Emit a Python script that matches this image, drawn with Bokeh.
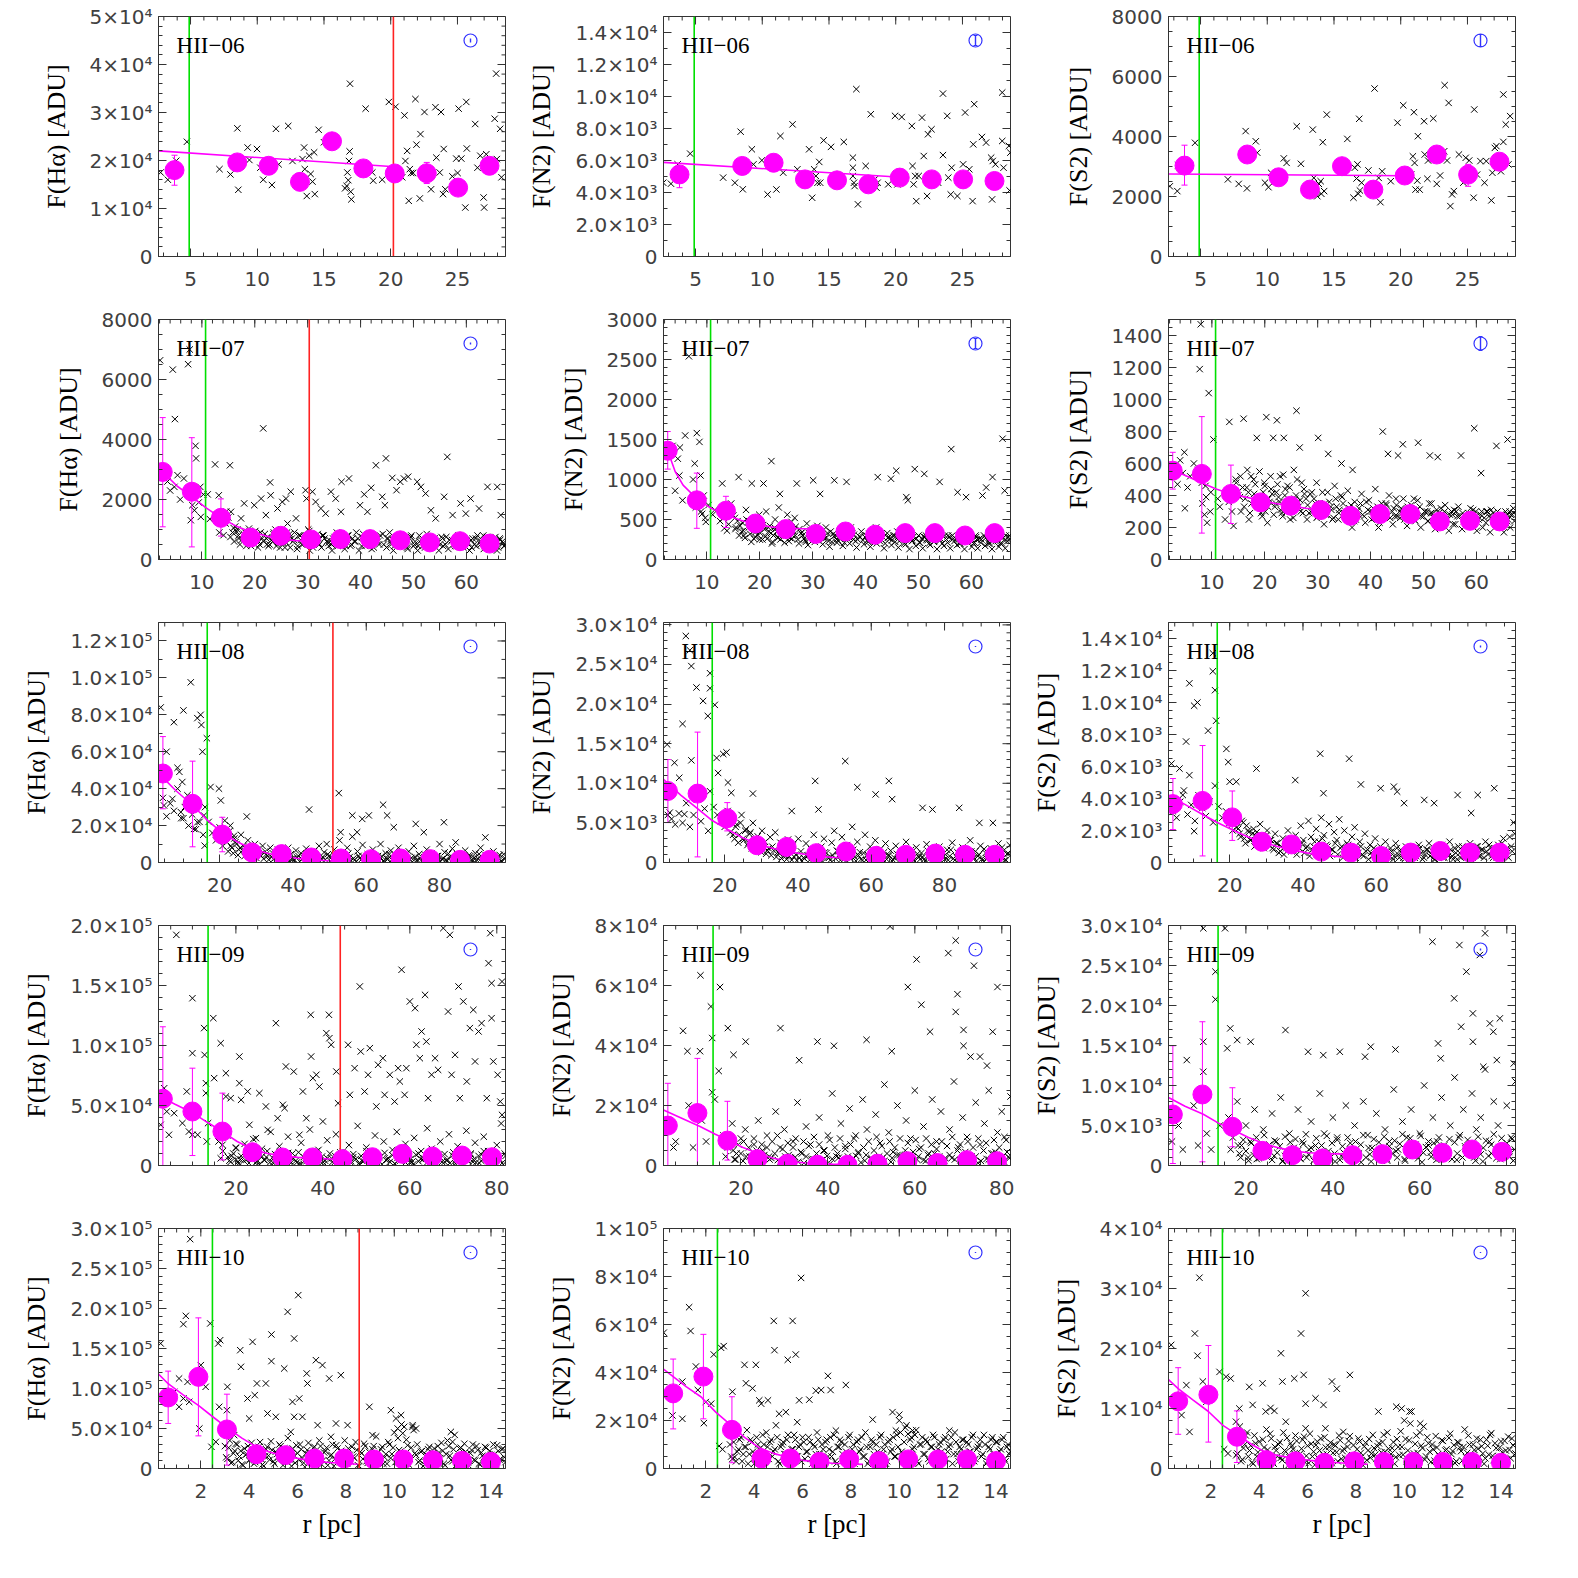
import numpy as np
from bokeh.plotting import figure
from bokeh.layouts import column, row
from bokeh.models import Range1d, FixedTicker, Label
from bokeh.embed import file_html
from bokeh.resources import INLINE

KADU = 1000.0  # all flux lists below are in units of 10^3 ADU

regions = ["HII\u221206", "HII\u221207", "HII\u221208", "HII\u221209", "HII\u221210"]
ylabels = ["F(H\u03b1) [ADU]", "F(N2) [ADU]", "F(S2) [ADU]"]
xlabel = "r [pc]"

xranges = [(2.6, 28.6), (1.8, 67.4), (3.3, 98.0), (2.2, 82.0), (0.25, 14.6)]
xticks = [[5, 10, 15, 20, 25], [10, 20, 30, 40, 50, 60], [20, 40, 60, 80], [20, 40, 60, 80], [2, 4, 6, 8, 10, 12, 14]]
ytops = [[50000, 15000, 8000], [8000, 3000, 1500], [130000, 30300, 15000], [200000, 80000, 30000], [300000, 100000, 40000]]
ytick_vals = [
    [[0, 10000, 20000, 30000, 40000, 50000], [0, 2000, 4000, 6000, 8000, 10000, 12000, 14000], [0, 2000, 4000, 6000, 8000]],
    [[0, 2000, 4000, 6000, 8000], [0, 500, 1000, 1500, 2000, 2500, 3000], [0, 200, 400, 600, 800, 1000, 1200, 1400]],
    [[0, 20000, 40000, 60000, 80000, 100000, 120000], [0, 5000, 10000, 15000, 20000, 25000, 30000], [0, 2000, 4000, 6000, 8000, 10000, 12000, 14000]],
    [[0, 50000, 100000, 150000, 200000], [0, 20000, 40000, 60000, 80000], [0, 5000, 10000, 15000, 20000, 25000, 30000]],
    [[0, 50000, 100000, 150000, 200000, 250000, 300000], [0, 20000, 40000, 60000, 80000, 100000], [0, 10000, 20000, 30000, 40000]],
]
ytick_labels = [
    [["0", "1×10⁴", "2×10⁴", "3×10⁴", "4×10⁴", "5×10⁴"],
     ["0", "2.0×10³", "4.0×10³", "6.0×10³", "8.0×10³", "1.0×10⁴", "1.2×10⁴", "1.4×10⁴"],
     ["0", "2000", "4000", "6000", "8000"]],
    [["0", "2000", "4000", "6000", "8000"],
     ["0", "500", "1000", "1500", "2000", "2500", "3000"],
     ["0", "200", "400", "600", "800", "1000", "1200", "1400"]],
    [["0", "2.0×10⁴", "4.0×10⁴", "6.0×10⁴", "8.0×10⁴", "1.0×10⁵", "1.2×10⁵"],
     ["0", "5.0×10³", "1.0×10⁴", "1.5×10⁴", "2.0×10⁴", "2.5×10⁴", "3.0×10⁴"],
     ["0", "2.0×10³", "4.0×10³", "6.0×10³", "8.0×10³", "1.0×10⁴", "1.2×10⁴", "1.4×10⁴"]],
    [["0", "5.0×10⁴", "1.0×10⁵", "1.5×10⁵", "2.0×10⁵"],
     ["0", "2×10⁴", "4×10⁴", "6×10⁴", "8×10⁴"],
     ["0", "5.0×10³", "1.0×10⁴", "1.5×10⁴", "2.0×10⁴", "2.5×10⁴", "3.0×10⁴"]],
    [["0", "5.0×10⁴", "1.0×10⁵", "1.5×10⁵", "2.0×10⁵", "2.5×10⁵", "3.0×10⁵"],
     ["0", "2×10⁴", "4×10⁴", "6×10⁴", "8×10⁴", "1×10⁵"],
     ["0", "1×10⁴", "2×10⁴", "3×10⁴", "4×10⁴"]],
]
x_minor_step = [1, 2, 5, 5, 0.5]
y_minor_step = [[2000, 1000, 500], [500, 100, 50], [10000, 1000, 500], [10000, 5000, 1000], [10000, 5000, 2000]]

green_x = [4.9, 10.7, 16.6, 13.6, 2.48]
red_x = [20.2, 30.3, 50.9, 44.0, 8.55]

# ---------------- HII-06 pixels (r [pc], flux [kADU]) ----------------
r06_ha = [2.76,3.3,3.93,4.73,7.17,7.99,8.51,8.58,9.28,9.41,9.98,10.23,10.45,11.1,11.4,11.6,12.32,12.64,13.39,13.51,13.56,13.71,13.89,14.0,14.14,14.26,14.31,14.6,15.0,16.58,16.7,16.75,16.82,16.87,16.92,16.95,17.0,17.05,18.12,18.24,18.62,18.69,19.36,19.86,20.36,20.86,21.03,21.1,21.23,21.35,21.43,21.53,21.68,21.85,21.93,22.18,22.23,22.53,23.02,23.35,23.42,23.67,23.77,23.92,23.97,24.09,24.62,24.91,25.01,25.09,25.29,25.59,25.66,25.7,26.33,26.5,26.71,26.96,27.0,27.16,27.34,27.79,27.9,27.95,28.2,28.3]
f06_ha = [17.5,16,19.95,23.9,18.2,17.1,26.7,13.9,22.7,20.1,22.4,18.5,16,14.9,26.6,19.2,27.2,19.9,20.3,22.7,18.2,12.6,21,17.2,15.6,21.7,13,26.4,23.8,14.2,14.7,17.5,15.9,19.9,21.9,36,13.5,11.9,30.8,18.9,17.5,15.8,16,32.2,31.2,16.5,29.4,19.9,22,11.6,18.2,17.4,17.4,32.8,23.3,12.1,25.5,30.1,14,31.1,20.6,17.5,30.1,13,22.4,14,16.7,20.4,17.4,30.8,20.4,10.2,32.2,22.5,27.6,18.5,21,12.3,10.2,21.3,18.2,28.7,38.1,20.3,26.6,16.5]
r06_n2 = [2.58,3.16,3.66,4.6,7.07,7.95,8.38,8.54,9.22,9.34,9.97,10.4,11.06,11.36,11.57,12.27,12.63,13.51,13.74,13.89,14.02,14.14,14.27,14.34,14.6,15.15,16.11,16.79,16.79,16.79,16.87,16.92,17.05,17.17,17.75,18.13,18.43,18.56,18.64,19.44,19.95,20.13,20.45,21.21,21.26,21.34,21.46,21.54,21.72,21.97,22.1,22.35,22.42,22.68,23.18,23.54,23.54,23.86,23.94,24.12,24.19,24.62,25.05,25.2,25.51,25.76,25.81,25.88,26.46,26.77,27.15,27.22,27.27,27.47,27.98,27.98,28.08,28.48,28.53,28.59]
f06_n2 = [4.61,4.55,5.76,6.43,4.93,4.61,7.8,4.2,6.7,5.76,6.01,3.88,4.19,7.53,5.24,8.26,5.45,6.7,3.67,5.45,5.03,4.61,5.91,4.61,7.26,6.85,7.16,6.18,5.55,5.03,4.61,4.4,10.46,3.26,5.66,8.89,4.82,4.3,4.61,4.51,8.79,4.51,8.72,8.16,5.66,4.51,5.03,3.46,5.03,8.68,6.28,3.78,7.64,7.95,4.61,10.18,6.34,8.79,4.93,3.88,5.55,3.78,5.76,9.0,5.45,3.46,7.01,9.52,7.47,7.12,6.18,3.57,5.97,5.76,10.25,7.22,5.55,6.91,4.13,6.49]
r06_s2 = [2.7,3.26,3.31,4.59,7.05,7.86,8.38,8.48,9.14,9.25,9.83,10.09,10.29,11.24,11.45,12.21,12.52,13.41,13.49,13.75,13.87,14.0,14.05,14.16,14.26,14.46,16.0,16.46,16.56,16.69,16.76,16.82,16.89,16.94,17.07,17.58,18.04,18.35,18.48,18.61,19.25,19.76,20.19,20.78,20.91,20.99,21.04,21.11,21.24,21.29,21.42,21.75,21.8,22.0,22.05,22.44,22.7,22.95,23.26,23.29,23.47,23.59,23.72,23.85,23.98,24.36,24.69,24.87,25.13,25.46,25.51,25.72,25.97,26.28,26.41,26.79,26.87,27.05,27.17,27.51,27.69,27.69,27.87,28.07,28.2]
f06_s2 = [2.34,2.18,3.04,3.79,2.57,2.42,4.18,2.27,3.84,3.46,2.46,2.31,2.79,3.27,3.12,4.34,3.09,4.23,2.62,2.01,2.42,2.51,2.09,3.81,2.18,4.73,3.92,1.96,2.96,2.6,3.07,2.09,4.59,2.2,2.46,2.87,5.6,2.62,1.81,2.84,2.51,4.46,5.04,2.73,3.34,4.81,3.12,2.23,2.53,4.01,2.23,4.51,3.4,2.59,3.2,4.6,2.42,2.7,3.51,5.71,3.2,5.12,1.68,2.07,2.18,3.4,2.46,3.29,3.2,1.96,4.9,2.73,3.18,2.46,3.18,1.87,2.79,3.62,3.68,2.84,5.4,3.82,4.4,3.07,4.68]

# ---------------- HII-07 pixels (r, Ha, N2, S2) [kADU] ----------------
pts07 = [
(2.1,6.64,1.38,0.56),(2.8,2.94,1.30,0.59),(3.5,2.60,1.42,0.47),(4.0,2.30,0.86,0.62),(4.5,6.33,1.26,0.54),
(4.8,2.42,1.05,0.67),(4.9,4.68,1.40,0.32),(5.4,2.81,0.74,0.45),(5.9,2.00,1.55,0.52),(6.6,2.70,2.54,0.60),
(7.4,6.51,1.00,0.56),(7.7,7.00,1.20,1.19),(7.9,1.31,0.65,1.47),(8.1,2.10,1.58,0.48),(8.2,1.81,0.72,0.35),
(8.6,1.64,1.47,0.28),(8.8,3.79,1.05,0.46),(8.9,3.37,0.60,0.39),(9.1,2.20,0.57,0.23),(9.4,1.90,0.80,1.04),
(9.7,2.42,0.52,0.30),(9.8,1.42,0.47,0.42),(10.3,2.17,0.68,0.75),(11.1,2.17,0.56,0.38),(11.5,1.35,0.62,0.33),
(12.5,3.17,0.48,0.25),(12.9,1.50,0.95,0.42),(13.2,2.14,0.52,0.36),(13.3,0.90,0.39,0.86),(13.8,1.30,0.36,0.30),
(14.1,0.81,0.44,0.21),(14.6,1.60,0.70,0.48),(15.3,3.14,0.52,0.39),(15.5,1.59,0.40,0.30),(16.0,1.05,1.03,0.88),
(16.6,0.92,0.35,0.45),(17.0,0.70,0.30,0.25),(17.4,1.37,0.62,0.52),(18.0,1.87,0.48,0.41),(18.5,0.60,0.95,0.76),
(18.9,1.03,0.26,0.33),(19.3,0.45,0.35,0.29),(19.9,1.81,0.56,0.48),(20.3,0.80,0.42,0.89),(20.5,0.81,0.25,0.23),
(20.7,0.60,0.95,0.38),(21.2,2.03,0.60,0.44),(21.6,4.37,0.40,0.76),(22.1,1.48,0.33,0.35),(22.2,0.70,1.23,0.42),
(22.3,0.50,0.20,0.87),(22.9,2.57,0.50,0.52),(23.0,2.14,0.38,0.31),(23.4,0.59,0.27,0.27),(23.6,0.90,0.65,0.76),
(23.8,0.75,0.82,0.40),(24.3,1.70,0.30,0.46),(24.8,0.40,0.43,0.25),(25.2,1.92,0.56,0.33),(25.5,0.65,0.23,0.56),
(25.9,2.03,0.38,0.40),(26.0,0.55,0.47,0.93),(26.2,1.20,0.30,0.36),(26.6,0.85,0.52,0.70),(26.8,2.26,0.41,0.30),
(27.0,0.70,0.95,0.48),(27.8,1.37,0.33,0.38),(28.4,0.81,0.26,0.29),(28.9,0.50,0.45,0.42),(29.6,2.31,0.37,0.35),
(29.8,2.03,0.30,0.26),(30.1,1.00,0.99,0.76),(30.6,0.60,0.25,0.30),(30.9,2.26,0.42,0.42),(31.4,0.70,0.82,0.35),
(31.5,1.92,0.33,0.28),(32.0,0.55,0.28,0.66),(32.5,1.70,0.40,0.33),(33.0,0.80,0.23,0.26),(33.4,1.53,0.35,0.38),
(34.1,0.65,0.99,0.31),(34.4,2.26,0.30,0.40),(34.5,0.50,0.25,0.60),(35.3,2.03,0.38,0.30),(35.8,0.75,0.28,0.26),
(36.3,1.59,0.32,0.34),(36.4,2.59,0.97,0.30),(36.6,0.60,0.26,0.56),(37.2,0.45,0.40,0.25),(37.8,2.70,0.31,0.32),
(38.5,0.70,0.25,0.28),(39.2,0.90,0.35,0.36),(39.9,1.81,0.28,0.30),(40.7,2.17,0.32,0.26),(41.3,1.59,0.25,0.33),
(42.0,2.39,0.40,0.28),(42.3,0.80,1.03,0.80),(42.9,3.14,0.30,0.35),(43.3,0.60,0.28,0.66),(44.1,2.09,0.33,0.30),
(44.6,1.81,0.26,0.27),(44.8,3.37,1.01,0.38),(45.2,0.70,0.30,0.65),(45.8,0.50,1.11,0.32),(46.0,2.72,0.35,0.29),
(46.1,0.65,0.28,0.72),(46.8,2.31,0.30,0.30),(47.5,2.59,0.25,0.26),(47.7,0.80,0.78,0.34),(48.0,0.55,0.74,0.31),
(48.2,2.70,0.32,0.38),(49.0,2.76,0.28,0.73),(49.3,0.70,1.13,0.33),(50.0,0.45,0.30,0.27),(50.7,2.59,0.26,0.30),
(51.1,0.80,1.07,0.35),(51.2,0.60,0.28,0.65),(51.4,2.42,0.30,0.29),(52.3,2.20,0.25,0.26),(52.7,0.55,0.31,0.64),
(53.3,1.64,0.28,0.32),(54.0,0.70,0.97,0.30),(54.2,1.37,0.26,0.25),(55.0,0.50,0.30,0.28),(55.8,2.09,0.28,0.31),
(56.2,0.75,1.38,0.30),(56.4,3.42,0.30,0.27),(57.1,0.60,0.26,0.65),(57.4,1.48,0.84,0.29),(58.2,0.45,0.30,0.25),
(58.9,1.87,0.28,0.32),(59.0,0.70,0.78,0.27),(59.6,0.55,0.30,0.82),(59.9,1.53,0.26,0.30),(60.8,2.03,0.30,0.28),
(60.9,0.65,0.28,0.54),(61.5,0.50,0.26,0.26),(62.1,0.80,0.80,0.30),(62.4,1.70,0.30,0.27),(62.8,0.60,0.90,0.31),
(63.8,0.70,0.28,0.71),(64.0,2.42,1.03,0.30),(64.8,0.50,0.30,0.26),(65.85,2.42,0.26,0.28),(65.9,0.60,1.51,0.75),
(66.3,0.70,0.86,0.30),(66.5,1.48,0.30,0.28),(67.0,0.55,0.28,0.32),
]
band07 = [
(14.5,1.2,0.6,0.5),(15.0,1.4,0.55,0.4),(15.8,0.9,0.48,0.45),(16.3,1.1,0.42,0.38),(16.9,0.8,0.36,0.42),
(17.5,0.65,0.5,0.35),(18.2,0.9,0.32,0.47),(18.7,0.55,0.4,0.33),(19.2,0.75,0.28,0.39),(19.7,0.6,0.45,0.42),
(20.1,0.95,0.33,0.3),(20.9,0.5,0.38,0.36),(21.4,0.7,0.26,0.41),(21.9,0.85,0.42,0.33),(22.6,0.45,0.3,0.39),
(23.2,0.65,0.35,0.29),(23.9,1.0,0.25,0.44),(24.5,0.55,0.4,0.35),(25.0,0.8,0.3,0.3),(25.7,0.4,0.27,0.38),
(26.4,0.7,0.35,0.33),(27.2,0.6,0.25,0.29),(27.5,0.9,0.38,0.41),(28.1,0.45,0.3,0.34),(28.7,0.65,0.22,0.3),
(29.3,0.75,0.33,0.38),(30.0,0.55,0.28,0.27),(30.3,0.95,0.35,0.35),(31.0,0.4,0.24,0.31),(31.8,0.65,0.31,0.28),
(32.2,0.5,0.26,0.36),(32.8,0.8,0.33,0.25),(33.6,0.6,0.22,0.33),(34.0,0.45,0.29,0.29),(34.8,0.7,0.24,0.35),
(35.5,0.9,0.3,0.28),(36.0,0.5,0.21,0.32),(36.9,0.65,0.28,0.24),(37.5,0.8,0.33,0.3),(38.1,0.45,0.23,0.35),
(38.8,0.6,0.29,0.27),(39.5,0.7,0.24,0.31),(40.2,0.45,0.3,0.25),(40.5,0.85,0.22,0.32),(41.0,0.55,0.28,0.28),
(41.7,0.75,0.23,0.23),(42.5,0.4,0.3,0.3),(43.0,0.65,0.25,0.34),(43.7,0.8,0.2,0.26),(44.4,0.5,0.28,0.32),
(45.0,0.7,0.24,0.27),(45.5,0.9,0.3,0.3),(46.4,0.45,0.23,0.25),(47.0,0.75,0.27,0.33),(47.3,0.55,0.2,0.28),
(48.5,0.65,0.28,0.24),(48.8,0.4,0.23,0.31),(49.6,0.8,0.26,0.27),(50.3,0.6,0.21,0.3),(50.9,0.45,0.29,0.24),
(51.7,0.7,0.24,0.29),(52.0,0.5,0.2,0.26),(52.5,0.85,0.26,0.31),(53.0,0.4,0.23,0.23),(53.7,0.65,0.28,0.28),
(54.5,0.55,0.2,0.25),(55.3,0.75,0.25,0.3),(55.6,0.45,0.3,0.22),(56.8,0.65,0.23,0.27),(57.7,0.5,0.2,0.24),
(58.5,0.8,0.26,0.29),(59.3,0.45,0.23,0.23),(60.0,0.65,0.28,0.27),(60.4,0.55,0.2,0.25),(61.0,0.4,0.25,0.3),
(61.8,0.7,0.21,0.23),(62.7,0.5,0.27,0.26),(63.2,0.8,0.23,0.29),(63.5,0.45,0.2,0.24),(64.4,0.65,0.26,0.27),
(65.0,0.5,0.23,0.23),(65.5,0.75,0.2,0.3),(66.0,0.4,0.27,0.25),(66.8,0.6,0.23,0.28),(67.2,0.45,0.3,0.24),
]
band07b = [
(15.4,0.75,0.38,0.52),(16.1,0.6,0.3,0.33),(16.7,1.0,0.46,0.56),(17.2,0.5,0.27,0.29),(17.9,0.85,0.4,0.5),(18.4,0.45,0.22,0.37),(19.0,0.95,0.36,0.55),(19.5,0.55,0.31,0.27),(20.0,0.7,0.25,0.46),(20.6,0.4,0.43,0.33),
(21.1,0.9,0.29,0.52),(21.7,0.6,0.35,0.28),(22.4,0.75,0.22,0.47),(22.8,0.5,0.4,0.36),(23.5,0.85,0.28,0.53),(24.1,0.45,0.33,0.3),(24.7,0.7,0.21,0.45),(25.4,0.55,0.37,0.26),(26.1,0.9,0.26,0.5),(26.7,0.4,0.3,0.37),
(27.4,0.65,0.2,0.44),(28.0,0.35,0.34,0.25),(28.6,0.8,0.24,0.41),(29.1,0.5,0.18,0.3),(29.8,0.7,0.3,0.48),(30.4,0.3,0.22,0.34),(31.2,0.6,0.36,0.22),(31.9,0.85,0.19,0.42),(32.6,0.4,0.27,0.31),(33.2,0.7,0.16,0.46),
(33.9,0.55,0.32,0.25),(34.6,0.3,0.21,0.39),(35.1,0.75,0.26,0.29),(35.7,0.45,0.17,0.43),(36.5,0.65,0.3,0.2),(37.0,0.35,0.2,0.36),(37.7,0.8,0.25,0.28),(38.3,0.5,0.15,0.41),(39.0,0.6,0.28,0.23),(39.7,0.3,0.19,0.37),
(40.3,0.75,0.24,0.3),(40.9,0.45,0.16,0.44),(41.5,0.6,0.29,0.2),(42.1,0.35,0.2,0.35),(42.7,0.7,0.23,0.27),(43.5,0.5,0.14,0.4),(44.2,0.85,0.27,0.22),(44.9,0.4,0.18,0.34),(45.6,0.6,0.22,0.26),(46.2,0.3,0.15,0.38),
(46.9,0.7,0.26,0.21),(47.6,0.45,0.19,0.32),(48.3,0.6,0.13,0.25),(48.9,0.35,0.24,0.37),(49.5,0.75,0.17,0.2),(50.2,0.5,0.21,0.3),(50.8,0.3,0.14,0.24),(51.5,0.65,0.25,0.35),(52.2,0.4,0.18,0.19),(52.9,0.7,0.22,0.29),
(53.5,0.45,0.13,0.23),(54.1,0.6,0.24,0.34),(54.8,0.3,0.17,0.18),(55.5,0.7,0.21,0.28),(56.0,0.5,0.14,0.22),(56.6,0.35,0.26,0.33),(57.3,0.65,0.18,0.19),(57.9,0.45,0.2,0.27),(58.7,0.75,0.13,0.21),(59.4,0.4,0.23,0.31),
(60.1,0.55,0.16,0.18),(60.6,0.3,0.21,0.26),(61.2,0.7,0.14,0.2),(61.9,0.45,0.25,0.3),(62.6,0.6,0.17,0.17),(63.3,0.35,0.2,0.25),(63.9,0.75,0.13,0.21),(64.6,0.4,0.23,0.28),(65.2,0.55,0.16,0.17),(65.8,0.3,0.2,0.24),
(66.4,0.65,0.14,0.2),(67.1,0.45,0.24,0.29),
]

# ---------------- HII-08 ----------------
band08 = [
(17,22,7,3.5),(18,16,6,2.8),(19,12,5.2,3.2),(20,19,4.5,2.5),(20.8,9,6.5,2),(21.5,14,3.8,2.9),(22,11,5.5,2.2),(22.7,17,3,1.8),(23.3,8,4.8,2.6),(24,13,3.5,1.5),
(24.6,10,6,2.3),(25.2,7,2.8,1.9),(25.8,15,4.2,1.4),(26.5,9,2.5,2.1),(27,6,3.8,1.7),(27.7,12,5,1.2),(28.3,8,2.2,2.4),(29,5,3.3,1.6),(29.6,10,1.8,1.1),(30.2,7,4,2),
(31,4,2.6,1.4),(31.7,9,1.5,0.9),(32.4,6,3.2,1.8),(33,3.5,2,1.2),(33.8,8,3.8,0.7),(34.5,5,1.3,1.5),(35.2,2.5,2.5,1),(35.9,7,1.8,2),(36.6,4,0.8,1.3),(37.3,6,2.9,0.8),
(38,3,1.5,1.7),(38.7,8,2.2,1.1),(39.4,4.5,1,2.3),(40.1,2,3,1.4),(40.8,6.5,1.4,0.9),(41.5,3.5,0.6,2.6),(42.2,5,2.4,1.6),(42.9,2.5,0.9,1),(43.6,7.5,1.7,2.1),(44.3,4,3.5,1.3),
(45,1.5,1.1,2.8),(45.7,6,0.5,1.7),(46.4,3,2,1.1),(47.1,9,3,2.4),(47.8,2,1.2,0.8),(48.5,5.5,0.6,1.9),(49.2,10,2.5,1.4),(49.9,3.5,4,2.7),(50.6,1.5,1.5,1),(51.3,7,0.8,2),
(52,2.5,3.2,1.2),(52.7,12,0.5,0.6),(53.4,4.5,2.2,1.6),(54.1,1.8,1,2.2),(54.8,8,4.5,0.9),(55.5,3,0.7,1.3),(56.2,14,2.6,0.5),(56.9,1.5,1.3,1.8),(57.6,6,0.3,0.8),(58.3,2.5,3.5,1.1),
(59,9.5,1,0.4),(59.7,1,2,1.5),(60.4,4.5,0.5,0.7),(61.1,2,2.8,1),(61.8,7,0.8,0.3),(62.5,1.2,1.7,1.3),(63.2,3.5,0.4,0.6),(63.9,10,2.4,0.9),(64.6,0.8,0.9,0.2),(65.3,5,1.5,1.2),
(66,2,0.3,0.5),(66.7,6.5,2.1,0.8),(67.4,1,0.7,0.3),(68.1,3,1.2,1),(68.8,8,0.4,0.6),(69.5,1.5,2.6,0.2),(70.2,4,0.9,0.9),(70.9,0.6,1.6,0.4),(71.6,6,0.3,1.1),(72.3,2.5,1.9,0.6),
(73,9,0.7,0.3),(73.7,1.2,1.2,0.8),(74.4,4.5,0.4,1.2),(75.1,0.7,2.3,0.5),(75.8,3,0.9,0.2),(76.5,7,0.3,0.9),(77.2,1.5,1.5,0.6),(77.9,5,0.6,1.1),(78.6,0.8,2,0.3),(79.3,3.5,1,0.7),
(80,10,0.4,1.3),(80.7,2,1.6,0.4),(81.4,5.5,0.8,0.9),(82.1,0.9,2.5,0.2),(82.8,3,0.3,0.6),(83.5,7.5,1.3,1),(84.2,1.2,0.6,0.4),(84.9,4.5,1.9,0.8),(85.6,0.6,0.4,1.2),(86.3,2.5,1.1,0.3),
(87,6.5,2.8,0.7),(87.7,1.5,0.5,1),(88.4,3.5,1.4,0.4),(89.1,0.8,0.8,0.8),(89.8,5,2.1,1.3),(90.5,2,0.3,0.5),(91.2,8,1.2,0.9),(91.9,1,0.6,0.3),(92.6,4,1.8,0.7),(93.3,0.6,0.9,1.1),
(94,2.5,0.4,0.4),(94.7,6,2.4,1.5),(95.4,1.5,0.7,0.8),(96.1,3.5,1.5,0.3),(96.8,0.8,0.3,1),(97.5,4.5,1.1,2.5),
(4.5,35,6,3.2),(5.5,25,5.5,2.8),(6.5,32,4.8,3.8),(7.5,28,6.2,4.5),(8.5,40,5,3),(9.5,24,7.5,3.6),(10.5,30,4.5,2.6),(11.5,20,6,4.2),(12.5,26,8,3.4),(13.5,18,5.2,2.9),
(14.5,22,6.8,3.8),(15.5,15,4,2.5),(16,30,9,4.8),
]
band08b = [
(22.3,6,3.5,2.1),(23.0,9,4.5,1.6),(23.7,5,2.5,2.5),(24.3,11,5,1.2),(25.0,4,3,2.0),(25.6,8,4,1.4),(26.2,6.5,2.2,1.8),(26.8,3.5,3.6,1.0),(27.4,7,1.8,1.9),(28.0,5,2.9,1.3),
(28.6,3,1.6,1.5),(29.3,6,2.4,0.9),(30.0,2.5,1.3,1.7),(30.6,5,2.0,1.1),(31.3,3.5,1.1,1.4),(32.0,2,1.8,0.8),(32.7,4.5,0.9,1.2),(33.4,1.5,1.5,0.6),(34.1,3,0.7,1.0),(34.8,2,1.2,0.5),
(35.5,4,0.5,0.9),(36.2,1.2,1.0,1.4),(36.9,2.5,0.4,0.7),(37.6,1,0.8,1.1),(38.3,3.2,0.3,0.5),(39.0,0.8,0.7,0.9),(39.7,2,0.25,1.2),(40.4,1.3,0.6,0.6),(41.1,2.8,0.2,1.0),(41.8,0.6,0.5,0.4),
(42.5,1.8,0.9,0.8),(43.2,3.5,0.3,1.3),(43.9,0.9,0.7,0.5),(44.6,2.2,1.1,0.9),(45.3,4.2,0.4,1.5),(46.0,1.2,0.8,0.6),(46.7,2.6,0.2,1.0),(47.4,0.7,1.3,0.4),(48.1,3,0.6,0.8),(48.8,1.6,0.3,1.2),
(49.5,4.5,0.9,0.5),(50.2,0.9,0.5,0.9),(50.9,2.3,1.4,0.3),(51.6,5.5,0.3,0.7),(52.3,1.4,0.8,1.1),(53.0,3.2,0.2,0.4),(53.7,0.6,1.0,0.8),(54.4,2.7,0.5,0.3),(55.1,4.8,1.6,0.6),(55.8,1,0.2,1.0),
(56.5,2.2,0.9,0.4),(57.2,0.5,0.4,0.7),(57.9,3.6,1.2,0.2),(58.6,1.5,0.3,0.6),(59.3,2.8,0.7,0.9),(60.0,0.8,0.2,0.3),(60.7,4,1.0,0.6),(61.4,1.8,0.5,0.2),(62.1,0.4,0.8,0.8),(62.8,2.6,0.2,0.5),
(63.5,1.2,1.3,0.3),(64.2,3.4,0.4,0.7),(64.9,0.7,0.9,0.4),(65.6,2,0.2,0.9),(66.3,4.5,0.6,0.3),(67.0,1.4,1.1,0.6),(67.7,0.5,0.3,0.2),(68.4,2.9,0.8,0.7),(69.1,1.1,0.2,0.4),(69.8,3.8,1.4,0.8),
(70.5,0.8,0.5,0.3),(71.2,2.4,0.9,0.6),(71.9,1.6,0.2,0.9),(72.6,0.4,1.1,0.2),(73.3,3.1,0.4,0.5),(74.0,1.3,0.7,0.8),(74.7,2.2,0.2,0.4),(75.4,0.6,1.5,0.7),(76.1,4.2,0.5,0.2),(76.8,1.7,0.9,0.6),
(77.5,0.9,0.3,0.9),(78.2,2.7,1.2,0.3),(78.9,1.2,0.2,0.7),(79.6,3.5,0.7,0.4),(80.3,0.5,1.0,0.8),(81.0,2.1,0.3,0.2),(81.7,1.4,1.6,0.6),(82.4,4.8,0.5,1.0),(83.1,0.7,0.8,0.3),(83.8,2.5,0.2,0.7),
(84.5,1.6,1.2,0.4),(85.2,3.3,0.4,0.9),(85.9,0.4,0.9,0.2),(86.6,2.3,0.3,0.6),(87.3,1.1,1.4,1.0),(88.0,3.9,0.6,0.4),(88.7,0.8,0.2,0.8),(89.4,2.6,1.0,0.3),(90.1,1.5,0.4,0.7),(90.8,4.6,1.7,1.1),
(91.5,0.6,0.5,0.4),(92.2,2.2,0.9,0.9),(92.9,1.3,0.2,0.3),(93.6,3.6,1.3,0.6),(94.3,0.9,0.4,1.2),(95.0,2.8,0.8,0.5),(95.7,1.7,1.9,0.9),(96.4,4.1,0.3,1.6),(97.1,0.5,1.1,0.7),(97.8,2.4,2.2,1.8),
]
out08_ha = [(3.9,84),(7.5,76),(10.1,82.4),(12.1,97.6),(5.5,60),(8.5,51.3),(9.0,49.1),(9.8,43.6),(13.9,78.2),(14.8,80),(15.0,74.5),(15.3,60),(16.5,67.3),(5.3,46.4),(7.1,34.5),(4.8,30.9),(9.4,27.3),(10.1,24),(11.2,36.4),(13.0,18.2),(13.9,21.8),(15.7,25.5),(15.9,9.1),(17.5,40.9),(19.8,40),(20.3,33.6),(21.4,22.7),(22.9,20),(27.4,24.9),(23.9,14.5),(44.4,28.7),(52.5,37.6),(56.2,25.5),(58.9,23.6),(60.7,25.5),(64.6,31.3),(65.7,25.5),(67.5,19.1),(73.5,20.9),(75.7,16.4),(81.2,21.8),(84.4,10.9),(92.5,13.6),(53.0,16.4),(57.5,16.4)]
out08_n2 = [(9.4,28.6),(10.9,24.8),(10.5,26.8),(12.3,22.1),(14.1,20.4),(16.0,23.9),(16.0,22.0),(15.4,18.5),(17.3,19.9),(8.5,17.5),(4.3,14.9),(18.2,11.3),(19.6,13.7),(20.5,13.9),(17.8,13.2),(20.9,10.1),(21.8,8.8),(27.7,8.7),(52.9,12.8),(44.7,10.3),(45.6,6.7),(38.3,6.5),(56.2,9.5),(61.2,8.6),(64.8,10.3),(65.7,8.0),(74.0,6.9),(76.7,6.7),(84.0,6.9),(89.5,5.0),(93.2,5.0),(6.3,12.6),(10.9,12.9),(7.6,10.7),(5.0,6.3),(9.0,6.1)]
out08_s2 = [(9.0,11.2),(10.3,9.8),(11.2,10.0),(8.1,7.56),(14.1,8.24),(16.0,10.77),(15.4,11.95),(15.4,13.08),(16.3,8.86),(19.1,7.1),(19.6,6.28),(20.0,5.05),(21.8,5.05),(27.3,5.87),(37.9,5.15),(44.7,6.8),(52.6,6.49),(45.6,4.33),(55.8,4.88),(61.2,4.64),(64.8,4.74),(65.7,4.43),(67.6,3.71),(73.1,3.91),(75.8,3.71),(82.2,4.22),(87.7,4.22),(92.2,4.64),(85.9,3.09),(4.1,6.18),(6.3,5.87),(9.0,5.46),(7.2,4.22),(10.3,1.96)]

# ---------------- HII-09 ----------------
band09 = [
(16,20,10,6),(17,12,6,3.5),(18,25,14,8),(19,8,4,2.5),(20,15,9,5),(21,5,12,3),(22,18,3,7),(23,9,7,2),(24,22,15,4.5),(25,4,5,1.5),
(26,14,10,6.5),(27,7,2.5,3),(28,28,18,8.5),(29,3,6,1.2),(30,16,12,4),(31,6,3.5,2.2),(32,24,8,7),(33,10,21,3),(34,2.5,4,1),(35,19,13,5.5),
(36,5,7,2.5),(37,30,2,9),(38,8,16,4),(39,13,5,1.8),(40,3,10,6),(41,21,24,3.5),(42,6,3,1.2),(43,26,14,7.5),(44,11,6.5,2.8),(45,2,19,5),
(46,17,9,1.5),(47,7,4,8),(48,33,22,3.8),(49,4,12,2.2),(50,15,2.5,6.5),(51,9,17,1),(52,25,7.5,4.5),(53,3.5,27,3),(54,20,11,9.5),(55,6,4.5,2),
(56,13,20,5.5),(57,28,1.5,3.5),(58,8,15,7),(59,18,9,1.5),(60,2.5,25,4),(61,23,5.5,10),(62,10,13,2.5),(63,5,3.5,6),(64,31,22,3),(65,14,8,8.5),
(66,7,18,1.8),(67,20,2.5,5),(68,3,12,11),(69,26,28,3.5),(70,11,6,7),(71,16,16,2),(72,4.5,9.5,9),(73,29,3,4.5),(74,9,21,6),(75,19,7,12),
(76,2,14,3),(77,24,25,8),(78,12,4,5),(79,6,11,1.5),(80,17,18,7.5),(81,35,8.5,3.5),(82,8,23,10.5),
(16.5,6,3,2),(18.5,4,2,1.5),(20.5,3,1.5,1),(22.5,5,2.5,0.8),(24.5,2,1,1.8),(26.5,4.5,3,1.2),(28.5,2.5,1.8,0.6),(30.5,5.5,1.2,1.5),(32.5,3.5,2.8,0.9),(34.5,1.5,0.8,2),
(36.5,6.5,2.2,0.7),(38.5,3,1.4,1.3),(40.5,4,0.6,0.5),(42.5,2,2.6,1.6),(44.5,5,1,0.9),(46.5,3.5,3.2,0.4),(48.5,1,1.6,1.4),(50.5,6,0.7,1.1),(52.5,2.5,2.4,0.6),(54.5,4.5,1.2,1.8),
(56.5,1.5,3.5,0.8),(58.5,7,0.9,1.2),(60.5,3,2,0.4),(62.5,5.5,1.5,1.6),(64.5,2,4,0.9),(66.5,8,0.6,1.3),(68.5,4,2.5,0.7),(70.5,1.5,1.7,2.1),(72.5,6,3,1),(74.5,3,0.9,0.5),
(76.5,9,2.2,1.5),(78.5,2.5,4.5,0.8),(80.5,5,1.3,1.7),(81.5,1,2.8,0.6),
]
band09b = [
(18.2,7,5,2.5),(18.8,3,2,1),(19.4,10,7,3.2),(20.0,5,4,1.8),(20.6,1.5,8,0.6),(21.2,8,3,2.8),(21.8,4,6,1.3),(22.4,11,2,3.5),(23.0,2,9,0.9),(23.6,6,5,2.2),
(24.2,9,1.5,3.8),(24.8,3.5,7,1.1),(25.4,1,3.5,2.6),(26.0,7.5,6,0.7),(26.6,4.5,2,3.1),(27.2,12,8,1.6),(27.8,2.5,4,2.4),(28.4,6.5,10,0.5),(29.0,9.5,1,3.6),(29.6,1.5,5.5,1.3),
(30.2,5,3,2.9),(30.8,8.5,7.5,1),(31.4,3,2.5,3.3),(32.0,10.5,6,1.9),(32.6,2,9,0.8),(33.2,6,1.2,2.7),(33.8,4,4.5,3.9),(34.4,11,8,1.4),(35.0,1,3,2.2),(35.6,7,6.5,0.6),
(36.2,3.5,2,3.4),(36.8,9,9.5,1.7),(37.4,5.5,4,2.5),(38.0,2,7,0.9),(38.6,12,1.8,3.7),(39.2,4,5,1.2),(39.8,7.5,3.2,2.8),(40.4,1.5,8.5,1.5),(41.0,6,2.2,3.2),(41.6,10,6,0.7),
(42.2,3,4,2.4),(42.8,8,9,1.1),(43.4,5,1.5,3.5),(44.0,1,5.5,2),(44.6,11.5,3,0.8),(45.2,4.5,7,3),(45.8,7,2.5,1.4),(46.4,2.5,10,2.6),(47.0,9.5,4.5,3.8),(47.6,5.5,1,1),
(48.2,1.5,6,2.2),(48.8,8,3.5,0.5),(49.4,3.5,8,3.3),(50.0,12,2,1.7),(50.6,6,5,2.9),(51.2,2,9.5,1.2),(51.8,9,3,3.6),(52.4,4,6.5,0.8),(53.0,7,1.5,2.4),(53.6,1,4,1.5),
(54.2,10.5,8,3.1),(54.8,5,2.5,1),(55.4,3,6,2.7),(56.0,8.5,3.5,3.9),(56.6,1.5,9,0.6),(57.2,6.5,1.2,2),(57.8,4,5,3.4),(58.4,11,7.5,1.3),(59.0,2.5,2.2,2.6),(59.6,7.5,4.5,0.9),
(60.2,5.5,8.5,3.7),(60.8,1,3,1.6),(61.4,9,6,2.3),(62.0,3.5,1.8,3),(62.6,12,9,1.1),(63.2,6,4,2.8),(63.8,2,7,0.7),(64.4,8,2.5,3.5),(65.0,4.5,5.5,1.9),(65.6,10,3,2.5),
(66.2,1.5,8,1.2),(66.8,7,1.5,3.3),(67.4,3,6.5,0.8),(68.0,9.5,3.5,2.9),(68.6,5,9.5,1.5),(69.2,2,2,3.8),(69.8,8.5,5,1),(70.4,4,7,2.4),(71.0,11,1,3.2),(71.6,6,4.5,1.7),
(72.2,1.5,8,2.7),(72.8,7.5,2.5,0.6),(73.4,3.5,6,3.6),(74.0,10,3,1.4),(74.6,5,9,2.2),(75.2,2.5,1.5,3.1),(75.8,8,5,1.2),(76.4,4,7.5,2.6),(77.0,12,2,3.9),(77.6,6.5,4,0.9),
(78.2,1,8.5,2.3),(78.8,9,3.5,3.4),(79.4,3.5,6,1.5),(80.0,7,1.2,2.8),(80.6,5.5,9.5,1.1),(81.2,2,4.5,3.3),(81.8,10,2.5,2),
]
out09_ha = [(2.7,33.9),(3.5,64.4),(4.1,45),(4.6,25.6),(5.8,43.6),(6.3,192.2),(7.7,35.3),(8.7,61.7),(9.2,28.3),(10.0,139.4),(10.0,93.6),(10.0,25.6),(11.2,25.6),(12.7,114.5),(12.8,92.2),(13.1,60.3),(13.1,68.6),(13.3,20),(13.6,35.3),(14.8,122.8),(15.0,72.8),(16.5,101.9),(16.9,17.2),(17.7,76.9),(17.7,57.5),(18.8,56.1),(20.0,14.4),(20.8,90.8),(20.8,68.6),(21.2,54.7),(22.7,61.7),(23.1,33.9),(24.6,22.8),(25.4,60.3),(26.9,49.2),(27.3,29.7),(29.2,118.6),(29.6,39.4),(30.8,50.6),(31.2,47.8),(31.5,82.5),(33.3,78.3),(34.6,25.6),(35.4,61.7),(36.2,39.4),(37.2,125.6),(37.3,90.8),(37.7,72.8),(38.5,75.6),(39.2,65.8),(40.0,36.7),(40.8,110.3),(41.4,125.6),(41.5,106.1),(41.9,100.6),(43.1,78.3),(43.5,51.9),(45.8,100.6),(46.2,58.9),(47.3,81.1),(48.5,149.2),(48.7,95),(49.6,61.7),(50.4,75.6),(50.8,97.8),(52.3,49.2),(52.7,83.9),(53.8,89.4),(54.2,58.9),(55.4,75.6),(56.5,53.3),(57.3,81.1),(57.7,70),(58.1,163.1),(58.8,58.9),(59.2,81.1),(60.0,136.7),(61.2,131.1),(61.5,100.6),(62.3,89.4),(62.7,111.7),(63.5,142.2),(63.8,103.3),(64.2,56.1),(65.0,75.6),(65.8,89.4),(66.5,79.7),(67.7,197.8),(68.8,128.3),(69.2,192.2),(69.6,75.6),(70.4,92.2),(71.2,149.2),(71.5,56.1),(72.3,136.7),(73.1,70),(73.8,114.5),(74.6,129.7),(75.0,86.7),(75.8,111.7),(76.5,118.6),(77.7,56.1),(78.1,168.6),(78.5,193.6),(78.8,151.9),(78.8,122.8),(79.2,86.7),(80.2,75.6),(80.8,53.3),(81.2,153.3),(81.2,42.2)]
out09_n2 = [(6.7,44.9),(7.7,38.1),(10.6,38.1),(10.7,63.4),(13.1,53),(13.4,42.5),(13.4,24.4),(15.2,59.5),(14.9,31.5),(17.0,45.8),(18.3,36.9),(21.1,41.3),(29.1,45.8),(33.4,35.1),(37.6,41.3),(41.4,39.9),(48.9,41.9),(54.3,79.7),(54.7,38.1),(58.4,59.5),(60.4,68.7),(61.5,53.6),(63.5,44.6),(67.7,70.8),(69.4,75),(69.8,57.1),(69.4,51.2),(71.2,45.2),(73.6,66.6),(75.4,82.7),(77.9,44.6),(79.0,59.5),(71.2,39.9),(75.0,36.3),(76.6,33.3),(72.8,36.3),(3.5,12),(5,8),(8,20),(9,6),(11,15),(12,8),(14,22),(4.5,6)]
out09_s2 = [(10.2,29.65),(15.2,29.65),(13.0,24.23),(13.0,20.77),(10.2,15.47),(16.4,17.14),(18.0,15.68),(6.4,13.18),(10.2,11.72),(15.7,14.64),(21.1,15.47),(29.1,16.93),(34.3,14.22),(37.8,13.8),(41.6,14.22),(47.4,13.6),(48.7,14.85),(54.4,14.51),(62.9,27.98),(64.2,15.26),(64.8,13.39),(69.1,27.56),(67.9,20.89),(70.7,24.23),(69.5,17.35),(72.2,19.01),(75.0,29.02),(73.8,26.31),(76.1,17.76),(76.9,16.72),(78.4,18.39),(72.2,15.47),(74.6,12.34),(77.7,13.18),(81.6,12.76),(3.0,3),(4.5,5),(5.5,2),(8,7.5),(9,2.5),(11,4),(12,2),(14,5)]

# ---------------- HII-10 ----------------
band10 = [
(3.0,28,10,5),(3.1,12,4,2.5),(3.2,35,14,7),(3.3,8,7,1.5),(3.4,22,12,4),(3.5,30,3,6),(3.6,15,9,3),(3.7,5,16,1),(3.8,25,6,5.5),(3.9,18,11,2),
(4.0,10,2,4.5),(4.1,32,13,1.2),(4.2,6,8,3.5),(4.3,20,5,6.5),(4.4,27,10,2.2),(4.5,12,15,5),(4.6,3,4,0.8),(4.7,24,12,3),(4.8,16,7,4),(4.9,34,18,1.8),
(5.0,9,3,6),(5.1,21,9,2.8),(5.2,14,11,0.5),(5.3,28,6,4.2),(5.4,4,14,3.2),(5.5,18,1,5.5),(5.6,38,8,1.5),(5.7,11,12,2.5),(5.8,25,5,4.8),(5.9,7,10,1),
(6.0,19,13,3.8),(6.1,30,4,5.8),(6.2,13,7,2),(6.3,2,11,0.6),(6.4,23,2,4.5),(6.5,16,9,3),(6.6,8,15,1.3),(6.7,27,6,5.2),(6.8,12,10,2.4),(6.9,35,3,3.6),
(7.0,5,12,0.9),(7.1,20,8,4),(7.2,26,5,2.7),(7.3,10,14,5.5),(7.4,17,2,1.6),(7.5,3,9,3.3),(7.6,29,11,0.7),(7.7,14,4,4.6),(7.8,22,7,2.1),(7.9,6,13,3.9),
(8.0,18,6,1.4),(8.1,25,10,5),(8.2,9,3,2.6),(8.3,15,12,0.5),(8.4,33,8,4.3),(8.5,4,5,3),(8.6,21,15,1.8),(8.7,12,2,5.6),(8.8,28,9,2.3),(8.9,7,11,3.7),
(9.0,16,4,1),(9.1,24,7,4.4),(9.2,3,13,2.8),(9.3,19,6,6),(9.4,11,10,1.5),(9.5,27,3,3.4),(9.6,14,12,0.8),(9.7,6,8,4.9),(9.8,30,5,2.2),(9.9,18,14,3.6),
(10.0,45,20,8),(10.1,9,7,1.2),(10.2,23,11,4.7),(10.3,55,18,9.5),(10.4,13,4,2.5),(10.5,36,13,5.5),(10.6,5,9,0.6),(10.7,26,16,3.8),(10.8,48,2,7),(10.9,17,10,2),
(11.0,8,6,4.2),(11.1,21,12,1.1),(11.2,3,4,3.2),(11.3,15,9,5.4),(11.4,24,14,2.4),(11.5,10,3,0.7),(11.6,19,8,4.6),(11.7,6,11,3),(11.8,28,5,1.6),(11.9,13,13,5.8),
(12.0,22,7,2.9),(12.1,4,10,0.9),(12.2,35,2,4.4),(12.3,16,15,3.5),(12.4,9,6,1.3),(12.5,42,9,6.5),(12.6,12,12,2.6),(12.7,25,4,4),(12.8,7,11,0.6),(12.9,31,7,3.1),
(13.0,18,13,5),(13.1,3,3,1.9),(13.2,23,8,3.7),(13.3,11,10,0.8),(13.4,28,5,4.8),(13.5,6,14,2.3),(13.6,20,2,5.9),(13.7,14,9,1.4),(13.8,26,12,3.4),(13.9,9,6,2),
(14.0,17,11,4.5),(14.1,30,4,1),(14.2,5,8,3),(14.3,22,13,5.3),(14.4,12,3,1.7),(14.5,25,10,3.9),(14.6,8,7,2.5),
]
band10b = [
(3.05,14,5,2.2),(3.15,26,11,4.5),(3.25,7,3,1.2),(3.35,19,8,3.4),(3.45,31,13,5.5),(3.55,10,6,2),(3.65,22,9,3.8),(3.75,4,2,0.8),(3.85,17,12,4.2),(3.95,28,7,2.7),
(4.05,12,4,1.6),(4.15,24,10,4.8),(4.25,8,6,2.4),(4.35,20,14,3.1),(4.45,33,3,5.8),(4.55,5,9,1.1),(4.65,15,11,3.6),(4.75,27,5,2),(4.85,11,8,4.4),(4.95,23,13,1.4),
(5.05,6,2,3),(5.15,18,10,5.1),(5.25,30,6,1.9),(5.35,13,12,3.7),(5.45,25,4,2.5),(5.55,9,8,4.6),(5.65,21,14,1.3),(5.75,3,5,3.3),(5.85,16,9,5.3),(5.95,29,3,2.1),
(6.05,11,11,0.9),(6.15,24,7,4.1),(6.25,7,13,2.8),(6.35,19,4,3.9),(6.45,32,10,1.7),(6.55,14,6,5),(6.65,26,12,2.3),(6.75,5,2,3.5),(6.85,18,8,1.5),(6.95,28,11,4.3),
(7.05,10,5,2.6),(7.15,22,13,3.8),(7.25,4,7,1.2),(7.35,16,3,4.7),(7.45,30,9,2.9),(7.55,12,12,1.8),(7.65,25,6,3.6),(7.75,8,10,5.4),(7.85,20,4,2.2),(7.95,35,14,1),
(8.05,6,8,3.2),(8.15,17,2,4.5),(8.25,27,11,2),(8.35,13,7,3.7),(8.45,23,13,1.4),(8.55,3,5,4.9),(8.65,19,9,2.5),(8.75,31,3,3.4),(8.85,9,12,1.6),(8.95,21,6,4.2),
(9.05,15,10,2.7),(9.15,28,4,5.6),(9.25,40,14,1.1),(9.35,11,8,3.3),(9.45,24,2,2.4),(9.55,6,11,4.4),(9.65,18,7,1.9),(9.75,33,13,3.6),(9.85,13,5,6.2),(9.95,26,9,2.3),
(10.05,8,15,4.9),(10.15,38,6,3),(10.25,21,17,7.5),(10.35,44,4,1.8),(10.45,16,12,4.1),(10.55,29,8,2.6),(10.65,12,14,6),(10.75,52,3,3.4),(10.85,19,10,1.5),(10.95,30,13,5.2),
(11.05,10,6,2.8),(11.15,22,11,4),(11.25,5,3,1.3),(11.35,17,9,3.5),(11.45,27,13,2.1),(11.55,14,5,4.7),(11.65,25,10,1.6),(11.75,9,7,3.2),(11.85,20,12,5.1),(11.95,32,4,2.4),
(12.05,6,9,3.9),(12.15,18,13,1.2),(12.25,28,6,4.3),(12.35,11,11,2.9),(12.45,24,3,3.6),(12.55,4,8,1.9),(12.65,15,12,5.5),(12.75,26,5,2.2),(12.85,13,10,4),(12.95,21,7,1.4),
(13.05,8,14,3.3),(13.15,19,4,4.8),(13.25,30,9,2.5),(13.35,10,12,1.7),(13.45,23,6,3.8),(13.55,5,10,5.6),(13.65,16,3,2.1),(13.75,27,8,4.2),(13.85,12,13,1.3),(13.95,22,5,3.5),
(14.05,7,11,2.7),(14.15,18,7,4.6),(14.25,29,12,1.5),(14.35,11,4,3.1),(14.45,24,9,5),(14.55,14,6,2.3),
]
out10_ha = [(0.34,156.3),(1.1,112.5),(1.1,77.1),(1.28,180.4),(1.38,190.8),(1.56,286.7),(1.28,87.5),(1.45,108.3),(1.52,83.3),(0.9,95.8),(1.94,50),(2.0,129.2),(2.2,102.1),(2.39,181.3),(2.44,27.1),(2.62,33.3),(2.72,156.3),(2.76,77.1),(2.8,160.4),(3.1,102.1),(3.08,72.9),(3.38,41.7),(3.63,147.9),(3.66,127.1),(3.93,87.5),(4.14,158.3),(4.0,62.5),(4.23,91.7),(4.32,106.3),(4.69,106.3),(4.76,68.8),(4.92,167.5),(4.92,134.2),(5.1,64.6),(5.45,125),(5.59,195.8),(5.72,45.8),(5.86,162.5),(5.79,83.3),(6.07,87.5),(6.03,216.7),(5.86,64.6),(6.2,64.6),(6.38,118.8),(6.41,106.3),(6.76,135.4),(6.83,54.2),(7.03,129.2),(7.31,112.5),(7.38,39.6),(7.59,56.3),(7.79,116.7),(8.07,54.2),(8.97,77.1),(9.1,41.7),(9.86,72.9),(10.07,62.5),(10.28,66.7),(10.14,50),(10.41,52.1),(10.76,54.2),(10.9,50),(12.34,45.8),(12.41,33.3)]
out10_n2 = [(0.26,56.6),(0.62,22.1),(1.03,20.7),(1.03,36.2),(1.31,67.2),(1.37,57.3),(1.59,42.5),(1.67,32.7),(1.92,18.9),(2.0,27.7),(2.22,27),(2.33,47.5),(2.63,50.3),(2.74,51),(2.55,9.4),(2.69,8),(3.1,32),(3.19,4.8),(3.6,43.2),(4.07,43.2),(3.66,35.5),(3.93,33.4),(4.21,28.4),(4.29,27),(4.57,28.4),(4.81,61.5),(4.84,49.3),(5.03,22.8),(5.31,23.5),(5.39,45.3),(5.59,61.5),(5.72,47.5),(5.86,28.4),(5.94,79.4),(5.78,19.3),(6.28,28.7),(6.55,32.4),(6.77,32.7),(7.05,38.6),(7.16,32.7),(7.38,15.8),(7.79,34.8),(8.9,20.4),(9.72,23.5),(10.0,22.4),(10.36,14.4),(10.55,15.8),(9.86,15.8),(12.07,15.8)]
out10_s2 = [(0.36,20.6),(0.79,8.9),(0.99,13.9),(1.12,6.1),(1.34,22.5),(1.45,18.8),(1.53,31.8),(1.67,14.5),(1.81,11.1),(2.36,16.1),(2.63,15.3),(2.82,15),(2.55,3.2),(2.71,2.5),(3.04,7.8),(3.18,10),(3.59,13.6),(3.73,10.6),(4.14,14.2),(4.27,9.5),(4.47,10.1),(4.63,9.6),(4.9,19.2),(5.1,7.8),(4.96,14.5),(5.45,15),(5.73,22.5),(5.84,15.6),(5.92,29.2),(5.92,10.8),(5.92,6.7),(6.33,11.7),(6.66,10.6),(6.74,6.7),(7.01,14.5),(7.21,13.3),(7.75,15.6),(7.48,6.1),(8.93,9.5),(9.67,10.3),(9.89,10),(10.22,9.5),(10.66,7.5)]

# ---------------- binned profiles [kADU] ----------------
bins_r = [
    [3.8, 8.5, 10.85, 13.2, 15.6, 17.95, 20.3, 22.7, 25.05, 27.4],
    [2.6, 8.1, 13.6, 19.2, 24.9, 30.6, 36.2, 41.8, 47.5, 53.1, 58.8, 64.4],
    [4.5, 12.6, 20.7, 28.8, 36.9, 45.0, 53.1, 61.3, 69.4, 77.5, 85.6, 93.7],
    [3.2, 10.0, 16.9, 23.8, 30.7, 37.6, 44.5, 51.4, 58.3, 65.2, 72.0, 78.9],
    [0.65, 1.9, 3.08, 4.3, 5.5, 6.7, 7.93, 9.16, 10.37, 11.6, 12.8, 14.0],
]
bins_f = [
    [[18.0,19.6,18.9,15.55,24.0,18.35,17.3,17.35,14.35,18.9], [5.13,5.66,5.86,4.82,4.76,4.51,4.93,4.82,4.82,4.72], [3.03,3.4,2.64,2.23,3.01,2.23,2.7,3.4,2.73,3.16]],
    [[2.92,2.26,1.39,0.73,0.79,0.67,0.68,0.68,0.64,0.57,0.61,0.53], [1.36,0.74,0.61,0.45,0.38,0.32,0.35,0.31,0.33,0.33,0.30,0.33], [0.555,0.535,0.41,0.357,0.336,0.309,0.273,0.284,0.284,0.238,0.242,0.238]],
    [[48.2,31.8,15.1,5.45,4.55,2.73,2.18,1.82,2.18,1.82,1.45,1.45], [9.03,8.7,5.59,2.18,1.97,1.18,1.39,0.84,0.97,1.13,0.97,0.97], [3.65,3.85,2.82,1.3,1.13,0.68,0.62,0.41,0.62,0.72,0.62,0.62]],
    [[55.6,45.0,28.3,11.1,6.7,6.7,5.3,6.9,9.7,7.5,8.3,6.9], [13.3,17.5,8.3,2.14,0.6,0.24,0.24,0.6,1.43,0.83,1.79,1.43], [6.38,8.88,4.84,1.83,1.29,0.88,1.29,1.42,2.0,1.58,2.0,1.71]],
    [[88.8,114.6,48.8,17.9,16.7,12.5,12.5,11.3,11.3,10.4,9.6,8.3], [31.3,38.3,16.1,4.2,4.2,2.8,3.8,3.1,3.8,3.8,3.8,3.1], [11.2,12.3,5.3,1.4,1.2,0.95,1.2,1.1,1.1,1.1,1.1,0.95]],
]
# error bars (r, low, high) [kADU]
bins_err = [
    [[(3.8,14.85,21.1),(8.5,17.85,21.2),(22.7,15.2,19.6)], [(3.8,4.3,5.45),(27.4,4.3,5.1)], [(3.8,2.38,3.71),(25.05,2.34,3.07)]],
    [[(2.6,1.09,4.73),(8.1,0.42,4.06),(13.6,0.78,2.02)], [(2.6,1.13,1.6),(8.1,0.39,1.08),(13.6,0.4,0.79)], [(2.6,0.44,0.67),(8.1,0.165,0.893),(13.6,0.225,0.59)]],
    [[(4.5,29.1,68.2),(12.6,8.5,54.9),(20.7,5.8,24.5)], [(4.5,5.04,13.0),(12.6,0.71,16.46),(20.7,3.99,7.56)], [(4.5,2.06,5.25),(12.6,0.41,7.31),(20.7,1.38,4.47)]],
    [[(3.2,0,115.6),(10.0,8.3,81.1),(16.9,4.7,60.3)], [(3.2,0,27.4),(10.0,0,35.7),(16.9,1.8,21.4)], [(3.2,0.25,14.97),(10.0,0.46,17.97),(16.9,2.34,9.72)]],
    [[(0.65,56.3,121.7),(1.9,40.8,188.3),(3.08,4.2,92.9)], [(0.65,16.5,45.6),(1.9,20.7,55.9),(3.08,2.4,29.9)], [(0.65,5.7,16.8),(1.9,4.4,20.5),(3.08,1.0,9.6)]],
]
# fitted profiles (r, flux) [kADU]
fits = [
    [[(2.6,22.0),(20.3,18.7)], [(2.6,5.88),(20.1,4.97)], [(2.6,2.75),(20.3,2.69)]],
    [[(2.6,2.92),(5.3,2.45),(8.1,2.09),(10.8,1.72),(13.6,1.39),(16.4,1.12),(19.3,0.92),(22.2,0.78),(25.1,0.68),(27.8,0.63),(30.6,0.61)],
     [(2.6,1.36),(4.0,1.1),(5.5,0.93),(8.1,0.76),(10.8,0.64),(13.6,0.56),(16.4,0.49),(19.2,0.44),(22,0.41),(25,0.39),(30.6,0.38)],
     [(2.6,0.56),(5.3,0.52),(8.1,0.48),(10.8,0.44),(13.6,0.41),(16.4,0.39),(19.2,0.37),(22,0.35),(24.9,0.335),(27.8,0.32),(30.6,0.31)]],
    [[(3.3,48),(4.5,46),(8,39),(12.6,31),(16.6,23),(20.7,16),(25,11),(28.8,7.5),(33,5),(36.9,3.5),(41,2.3),(45,1.5),(50.9,0.8)],
     [(3.3,10.5),(8,8.5),(12.6,6.8),(16.6,5.3),(20.7,4.2),(25,3.1),(28.8,2.4),(33,1.8),(36.9,1.4),(41,1.1),(45,0.8),(50.9,0.6)],
     [(3.3,4.2),(8,3.6),(12.6,3.0),(16.6,2.5),(20.7,2.05),(25,1.6),(28.8,1.3),(33,1.0),(36.9,0.8),(41,0.6),(45,0.45),(50.9,0.35)]],
    [[(2.2,58),(6,51),(10,44),(13.4,36),(16.8,28.5),(20.3,20),(23.8,13.5),(27.3,10),(30.8,8),(34.2,6.8),(37.6,6.1),(41,5.5),(44,5.3)],
     [(2.2,18.5),(6,16),(10.6,13),(14,10.5),(17.2,8.3),(20.5,6),(24.2,3.8),(27.5,2.4),(31.1,1.3),(34.5,0.9),(37.8,0.6),(41,0.45),(44,0.36)],
     [(2.2,8.5),(6,7.4),(10.2,6.4),(13.7,5.3),(17.2,4.4),(20.6,3.5),(24.1,2.75),(27.6,2.2),(31,1.8),(34.5,1.6),(37.8,1.5),(41,1.45),(44.3,1.4)]],
    [[(0.25,118),(0.65,106),(1.27,92),(1.9,79),(2.48,65),(3.08,51),(3.7,38),(4.3,27),(4.9,20),(5.5,15.8),(6.1,12),(6.7,9.2),(7.3,7.5),(7.93,6.3),(8.5,5.4)],
     [(0.25,41.4),(0.65,38.3),(1.2,34),(1.81,29.8),(2.41,23.5),(3.05,18),(3.6,13),(4.2,8.7),(4.8,6.3),(5.45,4.5),(6.0,3.4),(6.63,2.7),(7.25,2.2),(7.85,2.0),(8.5,1.7)],
     [(0.25,14.8),(0.65,13.3),(1.27,11.4),(1.9,9.5),(2.5,7.2),(3.1,5.6),(3.7,4),(4.25,2.7),(4.85,2.1),(5.45,1.7),(6.1,1.35),(6.65,1.1),(7.3,0.95),(7.85,0.8),(8.5,0.7)]],
]
beam_bar_px = [[2, 5, 6], [1, 5, 7], [0, 0, 1], [0, 0, 1], [0, 0, 0]]

MAG = "#FF00FF"
GREEN = "#00E000"
RED = "#FF2222"
BLUE = "#3333FF"
AX = "#333333"
TICKFONT = "DejaVu Sans"
SERIF = "Liberation Serif"
FW, FH = 347, 240


def scatter_points(i, j):
    if i == 0:
        rr = [r06_ha, r06_n2, r06_s2][j]
        ff = [f06_ha, f06_n2, f06_s2][j]
        n = min(len(rr), len(ff))
        return list(rr[:n]), list(ff[:n])
    band = [pts07 + band07 + band07b, band08 + band08b, band09 + band09b, band10 + band10b][i - 1]
    xs = [t[0] for t in band]
    ys = [t[1 + j] for t in band]
    if i >= 2:
        out = [[out08_ha, out08_n2, out08_s2], [out09_ha, out09_n2, out09_s2], [out10_ha, out10_n2, out10_s2]][i - 2][j]
        xs += [t[0] for t in out]
        ys += [t[1] for t in out]
    return xs, ys


def minor_ticks(a, b, step):
    start = np.ceil(a / step) * step
    return [float(v) for v in np.arange(start, b + 1e-9, step)]


def style_axis(ax):
    ax.major_tick_in = 8
    ax.major_tick_out = 0
    ax.minor_tick_in = 4
    ax.minor_tick_out = 0
    ax.axis_line_color = AX
    ax.major_tick_line_color = AX
    ax.minor_tick_line_color = AX
    ax.major_label_text_font = TICKFONT
    ax.major_label_text_font_size = "20px"
    ax.major_label_text_color = "#404040"


def build(i, j):
    x0, x1 = xranges[i]
    ymax = ytops[i][j]
    last = (i == 4)
    p = figure(frame_width=FW, frame_height=FH,
               x_range=Range1d(x0, x1), y_range=Range1d(0, ymax),
               output_backend="svg", toolbar_location=None,
               min_border_left=158 if j == 0 else 150, min_border_right=8,
               min_border_top=16 if i == 0 else 14,
               min_border_bottom=100 if last else 49)
    p.grid.visible = False
    p.outline_line_color = AX
    p.background_fill_color = "white"
    p.border_fill_color = "white"

    xmin = minor_ticks(x0, x1, x_minor_step[i])
    ymin = minor_ticks(0, ymax, y_minor_step[i][j])
    xa = p.below[0]
    ya = p.left[0]
    xa.ticker = FixedTicker(ticks=xticks[i], minor_ticks=xmin)
    ya.ticker = FixedTicker(ticks=ytick_vals[i][j], minor_ticks=ymin)
    style_axis(xa)
    style_axis(ya)
    xa.major_label_standoff = 15
    ya.major_label_standoff = 6
    ya.major_label_overrides = {v: s for v, s in zip(ytick_vals[i][j], ytick_labels[i][j])}
    ya.axis_label = ylabels[j]
    ya.axis_label_text_font = SERIF
    ya.axis_label_text_font_size = "26px"
    ya.axis_label_text_font_style = "normal"
    ya.axis_label_text_color = "black"
    ya.axis_label_standoff = 16
    if last:
        xa.axis_label = xlabel
        xa.axis_label_text_font = SERIF
        xa.axis_label_text_font_size = "27px"
        xa.axis_label_text_font_style = "normal"
        xa.axis_label_text_color = "black"
        xa.axis_label_standoff = 8

    # tick marks on the top and right frame edges
    lx_maj = 8.0 / FW * (x1 - x0)
    lx_min = 4.0 / FW * (x1 - x0)
    ly_maj = 8.0 / FH * ymax
    ly_min = 4.0 / FH * ymax
    tx = list(xticks[i]) + xmin
    tlen = [ly_maj] * len(xticks[i]) + [ly_min] * len(xmin)
    p.segment(x0=tx, y0=[ymax] * len(tx), x1=tx, y1=[ymax - L for L in tlen], line_color=AX, line_width=1)
    ty = list(ytick_vals[i][j]) + ymin
    tl = [lx_maj] * len(ytick_vals[i][j]) + [lx_min] * len(ymin)
    p.segment(x0=[x1] * len(ty), y0=ty, x1=[x1 - L for L in tl], y1=ty, line_color=AX, line_width=1)

    # pixels
    xs, ys = scatter_points(i, j)
    p.scatter(x=xs, y=[v * KADU for v in ys], marker="x", size=9,
              line_color="black", line_width=1)

    # characteristic radii
    p.segment(x0=[green_x[i]], y0=[0], x1=[green_x[i]], y1=[ymax], line_color=GREEN, line_width=1.6)
    if j == 0:
        p.segment(x0=[red_x[i]], y0=[0], x1=[red_x[i]], y1=[ymax], line_color=RED, line_width=1.6)

    # fitted profile
    fr = [t[0] for t in fits[i][j]]
    ff = [t[1] * KADU for t in fits[i][j]]
    p.line(fr, ff, line_color=MAG, line_width=1.6)

    # error bars
    er = bins_err[i][j]
    ex = [t[0] for t in er]
    elo = [t[1] * KADU for t in er]
    ehi = [t[2] * KADU for t in er]
    p.segment(x0=ex, y0=elo, x1=ex, y1=ehi, line_color=MAG, line_width=1)
    p.scatter(x=ex + ex, y=elo + ehi, marker="dash", size=6, line_color=MAG, line_width=1)

    # binned means
    p.scatter(x=bins_r[i], y=[v * KADU for v in bins_f[i][j]], marker="circle", size=19,
              fill_color=MAG, line_color=MAG)

    # region label
    p.add_layout(Label(x=x0 + 0.052 * (x1 - x0), y=ymax * (1 - 29.0 / FH), text=regions[i],
                       text_font=SERIF, text_font_size="23px", text_color="black",
                       text_baseline="middle", text_align="left"))

    # beam symbol
    cx = x1 - 35.0 / FW * (x1 - x0)
    cy = ymax * (1 - 24.0 / FH)
    p.scatter(x=[cx], y=[cy], marker="circle", size=13, fill_color=None, line_color=BLUE, line_width=1.2)
    hb = max(beam_bar_px[i][j], 0.6) / FH * ymax
    p.segment(x0=[cx], y0=[cy - hb], x1=[cx], y1=[cy + hb], line_color=BLUE, line_width=1.4)
    if beam_bar_px[i][j] >= 3:
        p.scatter(x=[cx, cx], y=[cy - hb, cy + hb], marker="dash", size=4, line_color=BLUE, line_width=1)
    return p


rows = []
for i in range(5):
    rows.append(row(*[build(i, j) for j in range(3)]))
layout = column(*rows)

open("out.html", "w").write(file_html(layout, INLINE))
